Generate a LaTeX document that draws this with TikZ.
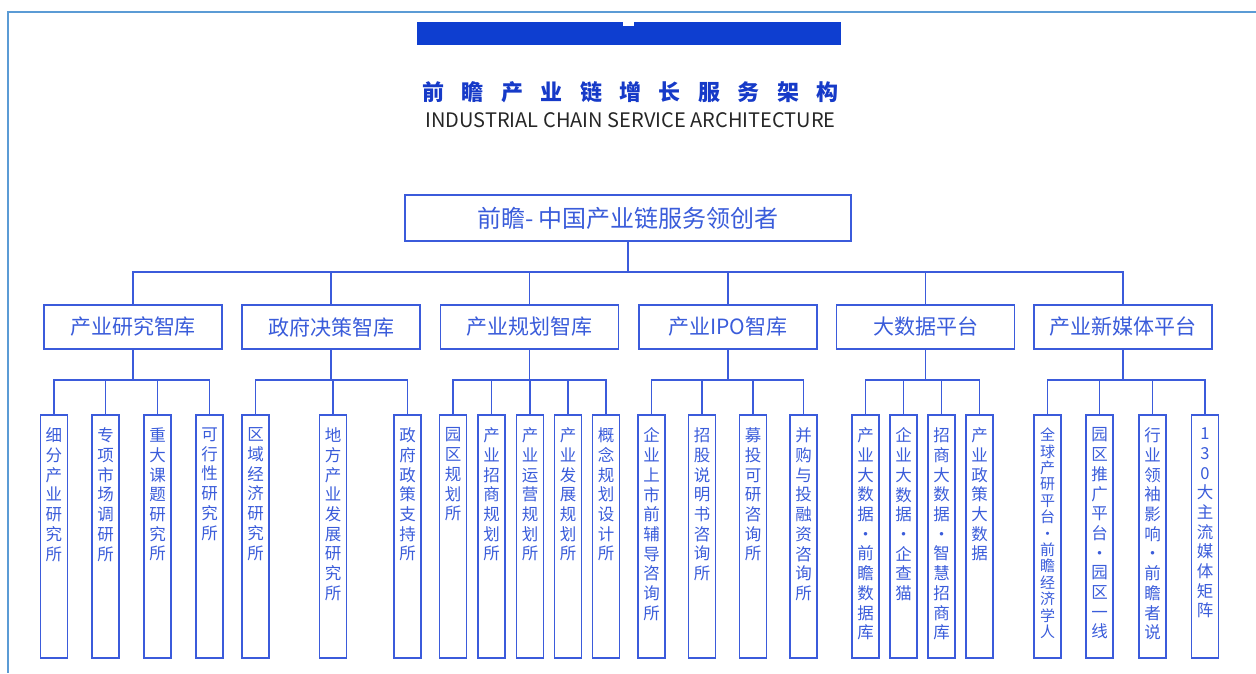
\documentclass[tikz,border=0pt]{standalone}
\usepackage{fontspec}
\usepackage{xcolor}
\newfontfamily\cjk{Noto Sans CJK SC}
\definecolor{bx}{RGB}{59, 91, 219}
\definecolor{txt}{RGB}{58, 92, 218}
\definecolor{ttl}{RGB}{22, 58, 200}
\definecolor{bar}{RGB}{14, 62, 208}
\definecolor{frm}{RGB}{91, 155, 213}

\begin{document}
\begin{tikzpicture}[x=1pt, y=-1pt,
    top/.style={draw=bx, line width=1.8pt, minimum width=446pt, minimum height=46pt, inner sep=0pt, text=txt, font=\cjk\fontsize{24}{28}\selectfont},
    mid/.style={draw=bx, line width=1.8pt, minimum width=178pt, minimum height=44pt, inner sep=0pt, text=txt, font=\cjk\fontsize{21}{25}\selectfont},
    leaf/.style={draw=bx, line width=1.8pt, anchor=north, inner sep=0pt, text=txt, font=\cjk\fontsize{16.5}{19.7}\selectfont,
        execute at begin node={\begin{minipage}[t][243pt][t]{27pt}\centering\vspace*{13pt}},
        execute at end node={\end{minipage}}},
    tight/.style={leaf, font=\cjk\fontsize{15}{16.4}\selectfont},
    conn/.style={draw=bx, line width=1.8pt}]
        \useasboundingbox (0,0) rectangle (1256,673);
        % frame and header
        \draw[frm, line width=2pt] (1256,12) -- (8,12) -- (8,673);
        \fill[bar] (417,22) rectangle (841,45);
        \fill[white] (623,22) rectangle (634,26);
        \node[font=\cjk\bfseries\fontsize{22}{26}\selectfont, text=ttl] (t) at (630.5,92) {\makebox[416pt][s]{前 瞻 产 业 链 增 长 服 务 架 构}};
        \node[font=\cjk\fontsize{20}{24}\selectfont, text=black!85] (s) at (630.5,120) {INDUSTRIAL CHAIN SERVICE ARCHITECTURE};

        \node[top] (r) at (628,218) {前瞻- 中国产业链服务领创者};

        \node[mid] (a) at (133,327) {产业研究智库};
        \node[mid] (b) at (331,327) {政府决策智库};
        \node[mid] (c) at (529.5,327) {产业规划智库};
        \node[mid] (d) at (728,327) {产业IPO智库};
        \node[mid] (e) at (925.5,327) {大数据平台};
        \node[mid] (f) at (1123,327) {产业新媒体平台};

        \node[leaf] (a1) at (54,414) {细\\分\\产\\业\\研\\究\\所};
        \node[leaf] (a2) at (105.5,414) {专\\项\\市\\场\\调\\研\\所};
        \node[leaf] (a3) at (157.5,414) {重\\大\\课\\题\\研\\究\\所};
        \node[leaf] (a4) at (209.5,414) {可\\行\\性\\研\\究\\所};

        \node[leaf] (b1) at (255.5,414) {区\\域\\经\\济\\研\\究\\所};
        \node[leaf] (b2) at (333,414) {地\\方\\产\\业\\发\\展\\研\\究\\所};
        \node[leaf] (b3) at (407.5,414) {政\\府\\政\\策\\支\\持\\所};

        \node[leaf] (c1) at (453,414) {园\\区\\规\\划\\所};
        \node[leaf] (c2) at (491.5,414) {产\\业\\招\\商\\规\\划\\所};
        \node[leaf] (c3) at (530,414) {产\\业\\运\\营\\规\\划\\所};
        \node[leaf] (c4) at (568,414) {产\\业\\发\\展\\规\\划\\所};
        \node[leaf] (c5) at (606,414) {概\\念\\规\\划\\设\\计\\所};

        \node[leaf] (d1) at (651.5,414) {企\\业\\上\\市\\前\\辅\\导\\咨\\询\\所};
        \node[leaf] (d2) at (702,414) {招\\股\\说\\明\\书\\咨\\询\\所};
        \node[leaf] (d3) at (753,414) {募\\投\\可\\研\\咨\\询\\所};
        \node[leaf] (d4) at (803.5,414) {并\\购\\与\\投\\融\\资\\咨\\询\\所};

        \node[leaf] (e1) at (865.5,414) {产\\业\\大\\数\\据\\·\\前\\瞻\\数\\据\\库};
        \node[leaf] (e2) at (903.5,414) {企\\业\\大\\数\\据\\·\\企\\查\\猫};
        \node[leaf] (e3) at (941.5,414) {招\\商\\大\\数\\据\\·\\智\\慧\\招\\商\\库};
        \node[leaf] (e4) at (979.5,414) {产\\业\\政\\策\\大\\数\\据};

        \node[tight] (f1) at (1047.5,414) {全\\球\\产\\研\\平\\台\\·\\前\\瞻\\经\\济\\学\\人};
        \node[leaf] (f2) at (1099.5,414) {园\\区\\推\\广\\平\\台\\·\\园\\区\\一\\线};
        \node[leaf] (f3) at (1152.5,414) {行\\业\\领\\袖\\影\\响\\·\\前\\瞻\\者\\说};
        \node[leaf] (f4) at (1205,414) {1\\3\\0\\大\\主\\流\\媒\\体\\矩\\阵};

        % connectors
        \draw[conn] (r.south) -- ++(0,30) coordinate (r0);
        \draw[conn] (r0) -| (a.north) (r0) -| (b.north) (r0) -| (c.north) (r0) -| (d.north) (r0) -| (e.north) (r0) -| (f.north);
        \draw[conn] (a.south) -- ++(0,30) coordinate (a0);
        \draw[conn] (a0) -| (a1.north) (a0) -| (a2.north) (a0) -| (a3.north) (a0) -| (a4.north);
        \draw[conn] (b.south) -- ++(0,30) coordinate (b0);
        \draw[conn] (b0) -| (b1.north) (b0) -| (b2.north) (b0) -| (b3.north);
        \draw[conn] (c.south) -- ++(0,30) coordinate (c0);
        \draw[conn] (c0) -| (c1.north) (c0) -| (c2.north) (c0) -| (c3.north) (c0) -| (c4.north) (c0) -| (c5.north);
        \draw[conn] (d.south) -- ++(0,30) coordinate (d0);
        \draw[conn] (d0) -| (d1.north) (d0) -| (d2.north) (d0) -| (d3.north) (d0) -| (d4.north);
        \draw[conn] (e.south) -- ++(0,30) coordinate (e0);
        \draw[conn] (e0) -| (e1.north) (e0) -| (e2.north) (e0) -| (e3.north) (e0) -| (e4.north);
        \draw[conn] (f.south) -- ++(0,30) coordinate (f0);
        \draw[conn] (f0) -| (f1.north) (f0) -| (f2.north) (f0) -| (f3.north) (f0) -| (f4.north);
    \end{tikzpicture}
\end{document}
